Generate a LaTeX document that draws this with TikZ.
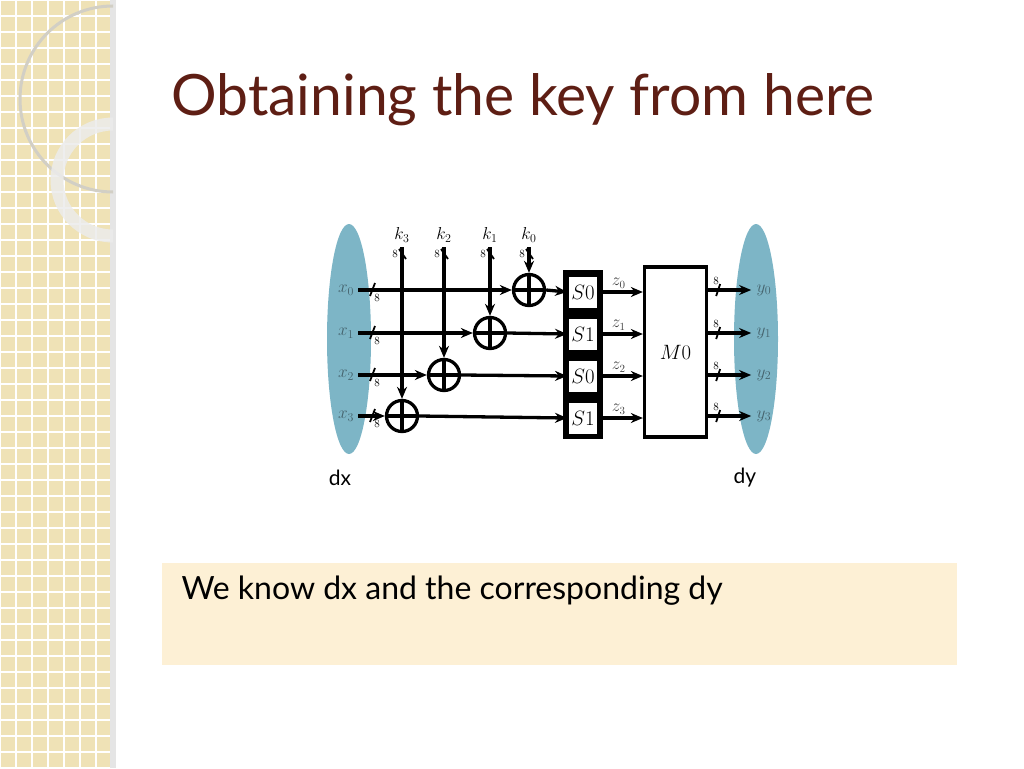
\documentclass[tikz,border=0pt]{standalone}
\usepackage{fontspec}
\setmainfont{Lato}
\newfontfamily\lmr{Latin Modern Roman}
\usetikzlibrary{arrows.meta}
\definecolor{band}{HTML}{EFE2B6}
\definecolor{ttl}{HTML}{5E1E14}
\definecolor{ell}{HTML}{7DB5C6}
\definecolor{note}{HTML}{FDF0D5}
\begin{document}
\begin{tikzpicture}[x=1pt,y=-1pt,
 wire/.style={line width=3.3pt,-{Stealth[length=12pt,width=10pt]}},
 xorc/.style={circle,draw,line width=3.3pt,minimum size=31pt,inner sep=0pt},
 sbox/.style={draw,line width=2pt,fill=white,minimum width=30pt,minimum height=33pt,inner sep=0pt,font=\lmr\fontsize{20}{22}\selectfont},
 mth/.style={font=\lmr\fontsize{18}{20}\selectfont,text=black!75},
 tick/.style={font=\lmr\fontsize{11}{12}\selectfont,inner sep=0pt}]
\useasboundingbox (0,0) rectangle (1024,768);
% left band
\fill[band] (0,0) rectangle (113,768);
\foreach \i in {0,16,...,768} \draw[white,line width=1.5pt] (0,\i) -- (113,\i);
\foreach \i in {0,16,...,112} \draw[white,line width=1.5pt] (\i,0) -- (\i,768);
\fill[black!10] (110,0) rectangle (116,768);
\begin{scope}
\clip (0,0) rectangle (113,768);
\draw[band!60!black!40!white,line width=3pt] (113,99) circle (93);
\draw[white!85!gray,line width=13pt,opacity=.85] (113,180) circle (56);
\end{scope}
% title
\node[anchor=west,text=ttl,font=\fontsize{57}{62}\selectfont] (title) at (168,100) {Obtaining the key from here};
% ellipses
\fill[ell] (349,339) ellipse (22 and 115);
\fill[ell] (756,339) ellipse (22 and 115);
% x labels
\foreach \j/\y in {0/290,1/333,2/375,3/416}{
 \node[mth,text=black!45!ell] (x\j) at (346,\y) {$x_{\j}$};
 \node[mth,text=black!45!ell] (y\j) at (764,\y) {$y_{\j}$};
 \coordinate (s\j) at (358,\y);
}
% xor nodes
\node[xorc] (o0) at (529,290) {};
\node[xorc] (o1) at (490,333) {};
\node[xorc] (o2) at (444,375) {};
\node[xorc] (o3) at (402,416) {};
\foreach \j in {0,...,3}{
 \draw[line width=3.3pt] (o\j.north) -- (o\j.south) (o\j.west) -- (o\j.east);
}
% sboxes
\fill (563,270) rectangle (603,439);
\node[sbox] (S0) at (583,292) {$S0$};
\node[sbox] (S1) at (583,334) {$S1$};
\node[sbox] (S2) at (583,376) {$S0$};
\node[sbox] (S3) at (583,418) {$S1$};
\node[draw,line width=3.3pt,minimum width=62pt,minimum height=170pt,inner sep=0pt,font=\lmr\fontsize{22}{24}\selectfont] (M) at (675.5,352) {$M0$};
% keys
\foreach \k/\x in {3/402,2/444,1/490,0/529}{
 \node[mth,text=black] (k\k) at (\x,235) {$k_{\k}$};
 \coordinate (kt\k) at (\x,247);
 \draw[line width=1.8pt] (\x-3,249) -- (\x+4,259);
 \node[tick] at (\x-7,254) {8};
}
\draw[wire] (kt0) -- (o0.north);
\draw[wire] (kt1) -- (o1.north);
\draw[wire] (kt2) -- (o2.north);
\draw[wire] (kt3) -- (o3.north);
% input wires
\draw[wire] (s0) -- (o0.west);
\draw[wire] (s1) -- (o1.west);
\draw[wire] (s2) -- (o2.west);
\draw[wire] (s3) -- (o3.west);
\foreach \j in {0,...,3}{
 \draw[wire] (o\j.east) -- (S\j.west);
 \draw[line width=1.8pt] ([xshift=12pt,yshift=-6pt]s\j) -- ([xshift=17pt,yshift=7pt]s\j);
 \node[tick] at ([xshift=19pt,yshift=-8pt]s\j) {8};
 \draw[wire] (S\j.east) -- (M.west |- S\j.east) node[pos=0.45,above=-1pt,mth,font=\lmr\fontsize{16}{18}\selectfont] {$z_{\j}$};
 \draw[wire] (M.east |- y\j) -- ([xshift=-2pt]y\j.west);
 \draw[line width=1.8pt] ([xshift=8pt,yshift=-6pt]M.east |- y\j) -- ([xshift=12pt,yshift=6pt]M.east |- y\j);
 \node[tick] at ([xshift=8pt,yshift=9pt]M.east |- y\j) {8};
}
\node[font=\fontsize{21}{24}\selectfont] (dx) at (340,478) {dx};
\node[font=\fontsize{21}{24}\selectfont] (dy) at (745,478) {dy};
% note box
\fill[note] (162,563) rectangle (957,665);
\node[anchor=west,font=\fontsize{32}{36}\selectfont] (txt) at (178,591) {We know dx and the corresponding dy};
\end{tikzpicture}
\end{document}
